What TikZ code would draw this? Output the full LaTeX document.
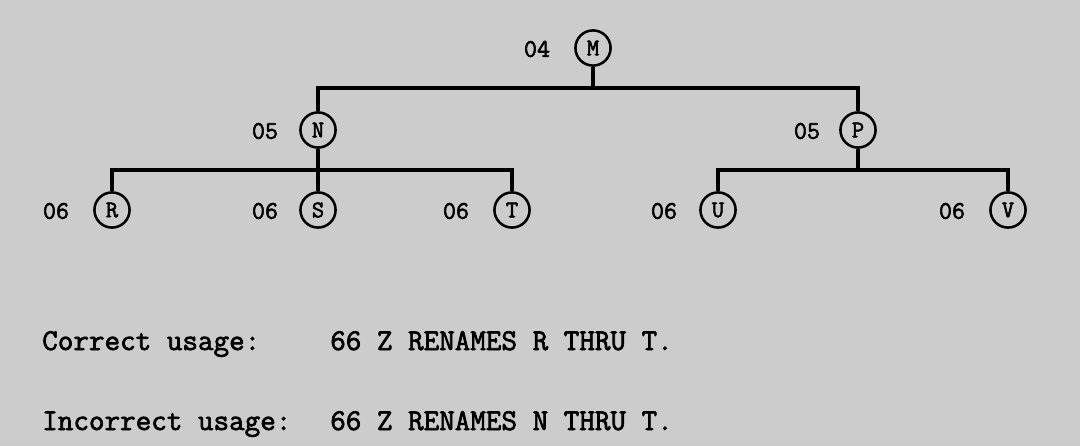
\documentclass[tikz,border=0pt]{standalone}
\usepackage{fontspec}
\setmonofont{Latin Modern Mono}[AutoFakeBold=2.2]
\usetikzlibrary{positioning}
\begin{document}
\begin{tikzpicture}[x=0.025cm, y=-0.025cm,
	rec/.style={draw, circle, line width=1.8pt, minimum size=25pt, inner sep=0pt,
		font=\ttfamily\bfseries\fontsize{17}{17}\selectfont},
	lvl/.style={font=\ttfamily\bfseries\fontsize{18}{18}\selectfont},
	usage/.style={anchor=base west, inner sep=0pt,
		font=\ttfamily\bfseries\fontsize{21.5}{21.5}\selectfont},
	ed/.style={-, line width=2.2pt}
	]
	% page and background
	\fill[gray!40] (0,0) rectangle (1080,446);
	\useasboundingbox (0,0) rectangle (1080,446);
	% level 04
	\node[rec] (M) at (593,48) {M};
	\node[lvl] (lM) at (537,49) {04};
	% level 05
	\node[rec] (N) at (318,130) {N};
	\node[lvl] (lN) at (265,131) {05};
	\node[rec] (P) at (858,130) {P};
	\node[lvl] (lP) at (807,131) {05};
	% level 06
	\node[rec] (R) at (112,210) {R};
	\node[lvl] (lR) at (56,211) {06};
	\node[rec] (S) at (318,210) {S};
	\node[lvl] (lS) at (265,211) {06};
	\node[rec] (T) at (512,210) {T};
	\node[lvl] (lT) at (456,211) {06};
	\node[rec] (U) at (718,210) {U};
	\node[lvl] (lU) at (664,211) {06};
	\node[rec] (V) at (1008,210) {V};
	\node[lvl] (lV) at (952,211) {06};
	% connectors
	\coordinate (jM) at (593,88);
	\coordinate (jN) at (318,170);
	\coordinate (jP) at (858,170);
	\draw[ed] (M) -- (jM);
	\draw[ed] (N) |- (jM) -| (P);
	\draw[ed] (N) -- (S);
	\draw[ed] (R) |- (jN) -| (T);
	\draw[ed] (P) -- (jP);
	\draw[ed] (U) |- (jP) -| (V);
	% usage lines
	\node[usage] (ok)  at (42,350)  {Correct usage:};
	\node[usage] (okx) at (330,350) {66 Z RENAMES R THRU T.};
	\node[usage] (bad)  at (42,430)  {Incorrect usage:};
	\node[usage] (badx) at (330,430) {66 Z RENAMES N THRU T.};
\end{tikzpicture}
\end{document}
